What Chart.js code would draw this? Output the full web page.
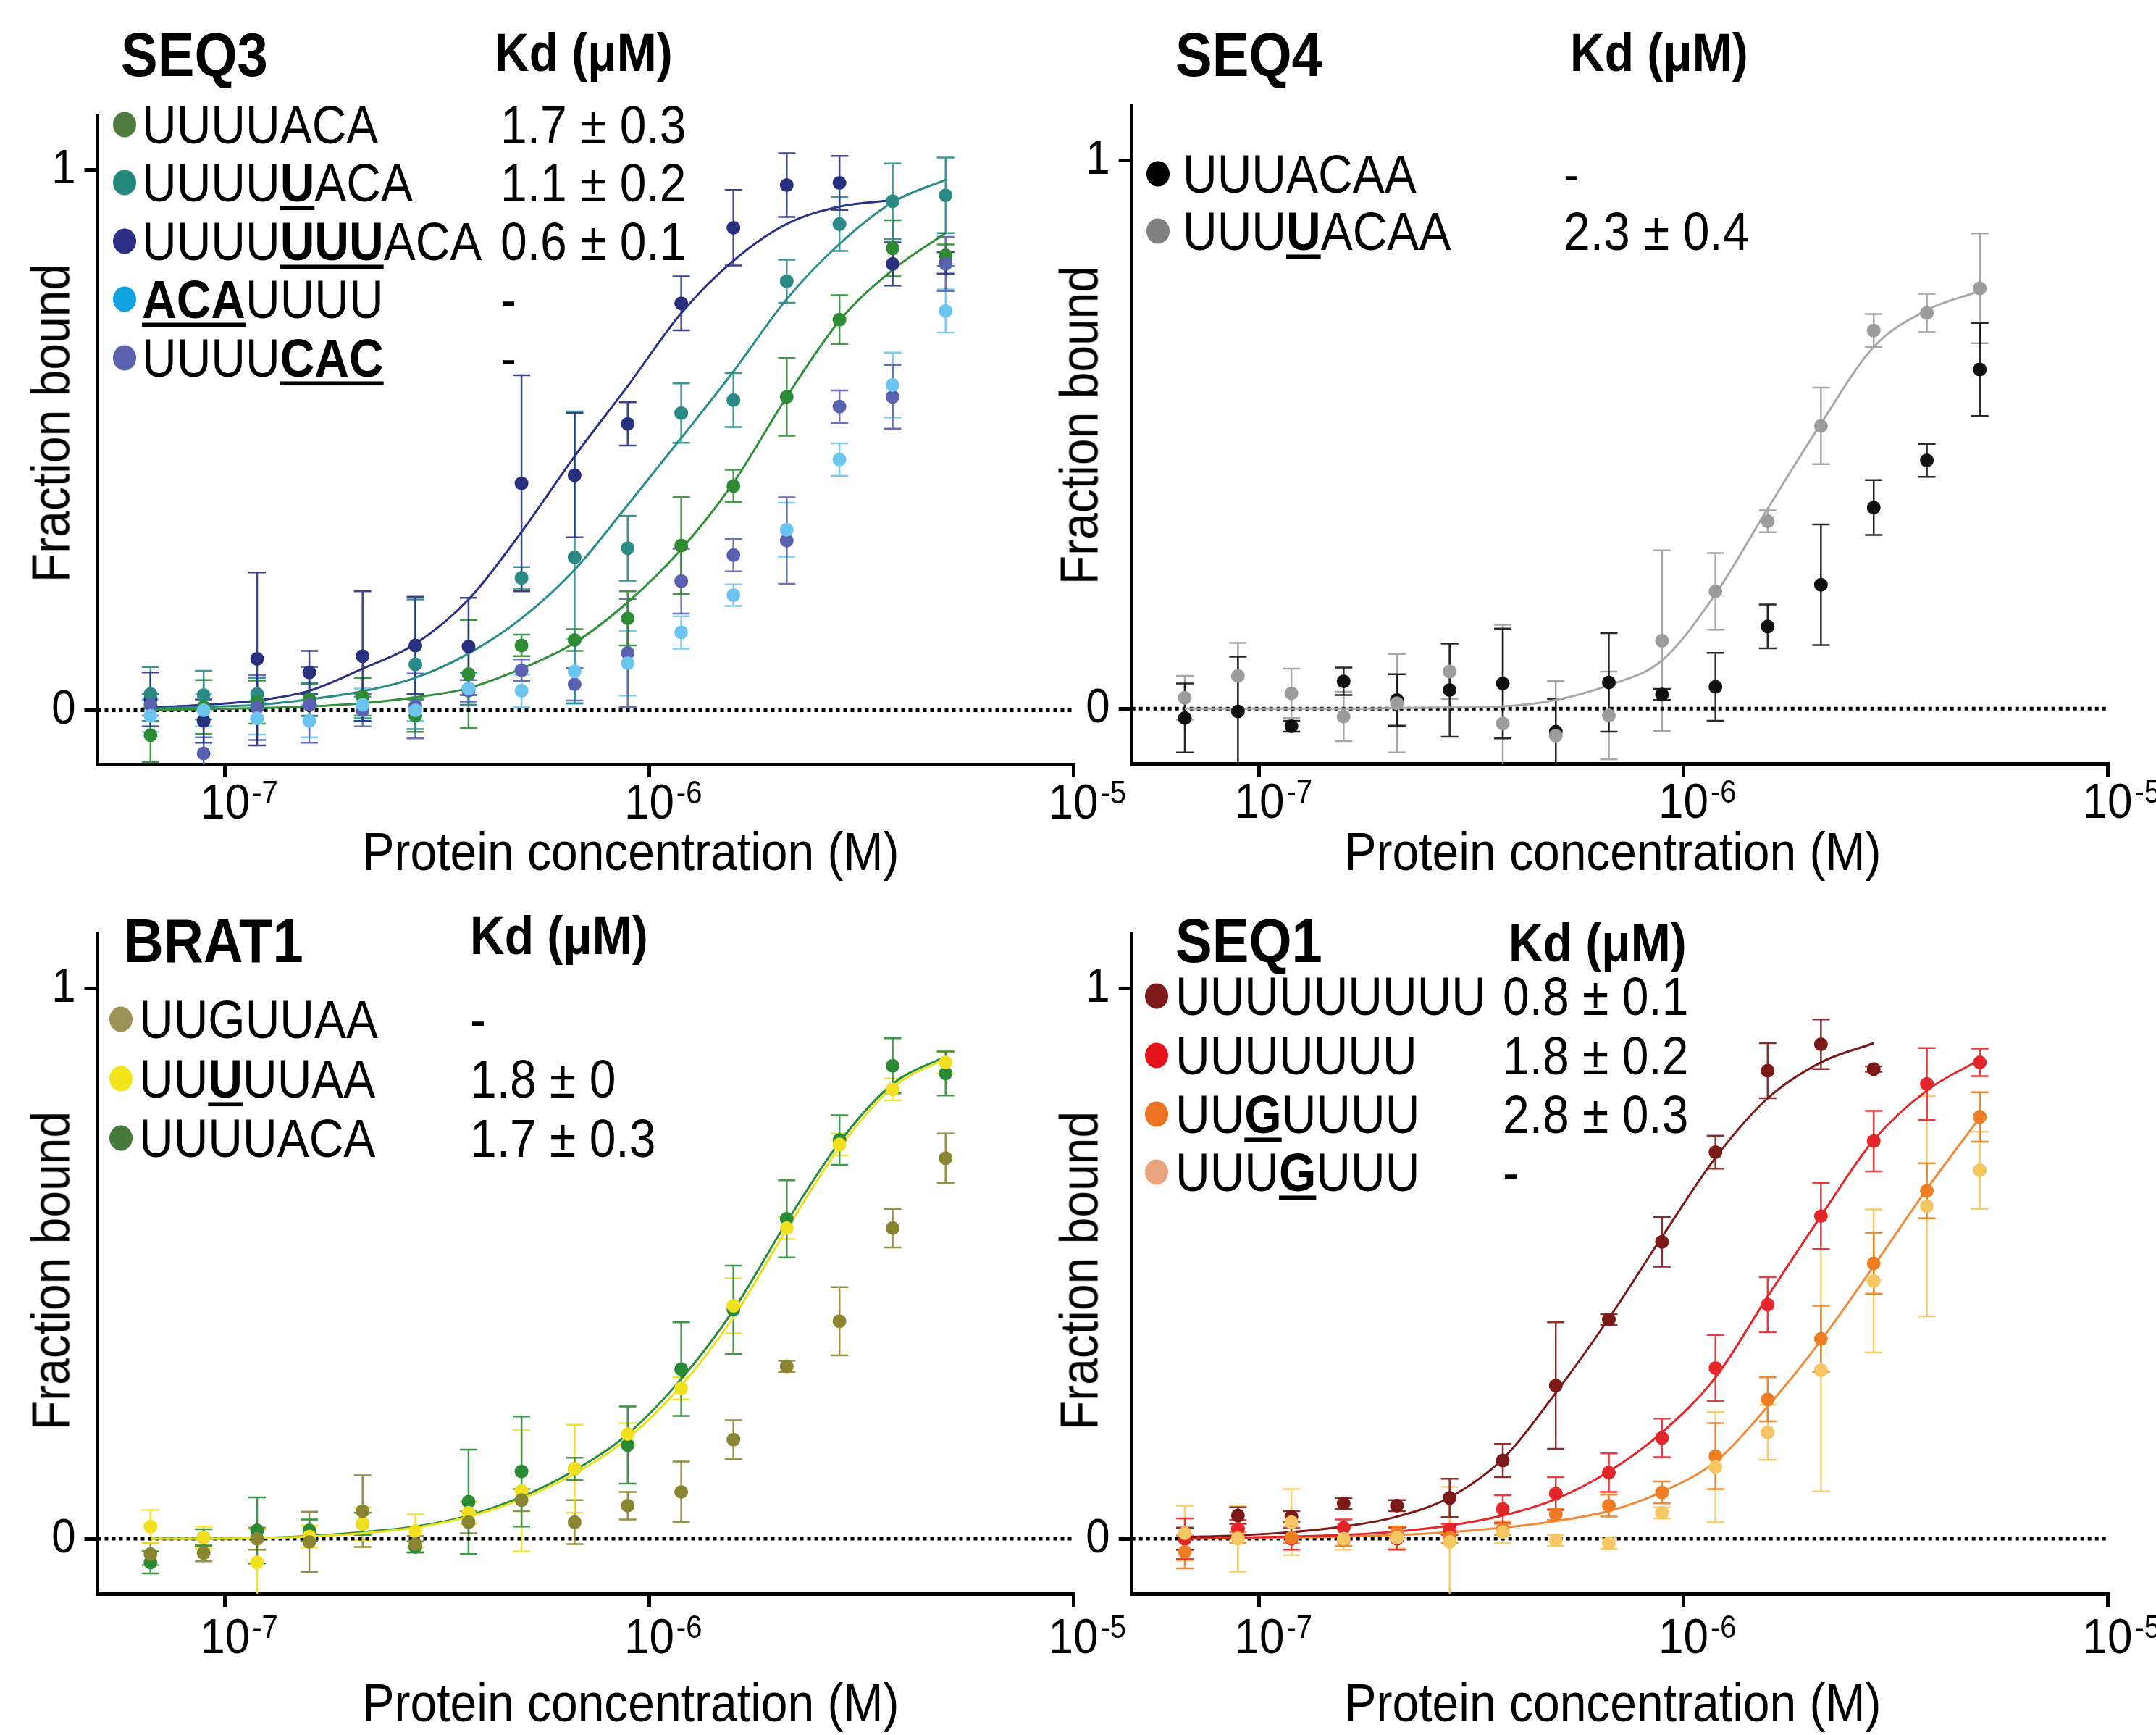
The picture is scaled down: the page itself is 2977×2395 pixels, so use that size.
<!DOCTYPE html>
<html>
<head>
<meta charset="utf-8">
<script src="https://cdn.jsdelivr.net/npm/chart.js@4.4.1/dist/chart.umd.min.js"></script>
<style>
html, body { margin: 0; padding: 0; background: #fff; }
#page { position: relative; width: 2977px; height: 2395px; overflow: hidden; font-family: "Liberation Sans", Arial, sans-serif; color: #000; }
canvas { position: absolute; }
.t { position: absolute; white-space: nowrap; line-height: 1; transform: translateY(-50%) scaleY(1.12); }
.ttl { font-size: 76px; font-weight: bold; }
.kdh { font-size: 66px; font-weight: bold; }
.leg { font-size: 66px; }
.leg u { text-decoration-thickness: 5px; text-underline-offset: 6px; }
.dot { position: absolute; width: 32px; height: 35px; border-radius: 50%; transform: translate(-50%, -50%); }
.xt { position: absolute; font-size: 66px; line-height: 1; white-space: nowrap; transform: translate(-50%, -50%) scaleY(1.12); }
.yt { position: absolute; font-size: 66px; line-height: 1; white-space: nowrap; transform: translate(-50%, -50%) rotate(-90deg) scaleY(1.12); }
</style>
</head>
<body>
<div id="page"></div>
<script>
// protein concentrations (M), same dilution series in all panels
const conc = [6.67e-8, 8.9e-8, 1.19e-7, 1.58e-7, 2.11e-7, 2.81e-7, 3.75e-7, 5.0e-7, 6.67e-7, 8.9e-7, 1.19e-6, 1.58e-6, 2.11e-6, 2.81e-6, 3.75e-6, 5.0e-6];
const xMin = 5e-8, xMax = 1e-5;
const xTicks = [1e-7, 1e-6, 1e-5];
const xTickBase = ['10', '10', '10'];
const xTickExp = ['-7', '-6', '-5'];
const yTicks = [0, 1];
const yTickLabels = ['0', '1'];
const xTitle = 'Protein concentration (M)';
const yTitle = 'Fraction bound';

// SEQ3
const seq3Names = ['UUUUACA', 'UUUU<u><b>U</b></u>ACA', 'UUUU<u><b>UUU</b></u>ACA', '<u><b>ACA</b></u>UUUU', 'UUUU<u><b>CAC</b></u>'];
const seq3Kd = ['1.7 ± 0.3', '1.1 ± 0.2', '0.6 ± 0.1', '-', '-'];
const seq3_A = [-0.046, 0.006, 0.015, 0.019, 0.025, -0.01, 0.067, 0.12, 0.13, 0.17, 0.305, 0.415, 0.58, 0.723, 0.855, 0.842];
const seq3_Aerr = [0.05, 0.05, 0.04, 0.03, 0.035, 0.03, 0.1, 0.02, 0.02, 0.05, 0.09, 0.03, 0.072, 0.045, 0.052, 0.02];
const seq3_Afit = [0.001, 0.002, 0.004, 0.007, 0.013, 0.024, 0.041, 0.077, 0.125, 0.2, 0.298, 0.421, 0.58, 0.721, 0.815, 0.883];
const seq3_B = [0.03, 0.028, 0.03, 0.02, 0.005, 0.085, 0.04, 0.245, 0.283, 0.30, 0.55, 0.574, 0.794, 0.9, 0.942, 0.953];
const seq3_Berr = [0.05, 0.045, 0.03, 0.03, 0.02, 0.12, 0.03, 0.02, 0.27, 0.06, 0.055, 0.05, 0.04, 0.05, 0.07, 0.07];
const seq3_Bfit = [0.003, 0.006, 0.01, 0.02, 0.035, 0.06, 0.105, 0.17, 0.26, 0.38, 0.504, 0.627, 0.761, 0.863, 0.94, 0.982];
const seq3_C = [0.02, -0.02, 0.095, 0.07, 0.10, 0.12, 0.118, 0.42, 0.435, 0.53, 0.753, 0.893, 0.972, 0.976, 0.826, 0.828];
const seq3_Cerr = [0.05, 0.04, 0.16, 0.04, 0.12, 0.09, 0.09, 0.2, 0.115, 0.04, 0.05, 0.07, 0.059, 0.05, 0.04, 0.02];
const seq3_Cfit = [0.005, 0.01, 0.018, 0.036, 0.077, 0.123, 0.205, 0.33, 0.47, 0.6, 0.735, 0.832, 0.9, 0.932, 0.944];
const seq3_D = [-0.01, 0.0, -0.015, -0.02, 0.01, 0.0, 0.04, 0.036, 0.072, 0.087, 0.144, 0.213, 0.334, 0.464, 0.602, 0.739];
const seq3_Derr = [0.03, 0.03, 0.03, 0.03, 0.03, 0.02, 0.03, 0.03, 0.06, 0.06, 0.03, 0.02, 0.05, 0.03, 0.06, 0.04];
const seq3_E = [0.01, -0.08, 0.005, 0.01, 0.0, 0.008, 0.036, 0.074, 0.048, 0.106, 0.239, 0.287, 0.314, 0.562, 0.58, 0.826];
const seq3_Eerr = [0.02, 0.03, 0.06, 0.07, 0.03, 0.06, 0.02, 0.02, 0.03, 0.1, 0.06, 0.03, 0.08, 0.03, 0.059, 0.05];

// SEQ4
const seq4Names = ['UUUACAA', 'UUU<u><b>U</b></u>ACAA'];
const seq4Kd = ['-', '2.3 ± 0.4'];
const seq4_A = [-0.017, -0.005, -0.032, 0.05, 0.016, 0.034, 0.046, -0.042, 0.048, 0.026, 0.04, 0.15, 0.226, 0.367, 0.453, 0.619];
const seq4_Aerr = [0.063, 0.1, 0.01, 0.025, 0.047, 0.085, 0.1, 0.06, 0.09, 0.01, 0.062, 0.04, 0.11, 0.05, 0.03, 0.085];
const seq4_B = [0.02, 0.06, 0.028, -0.014, 0.01, 0.068, -0.027, -0.049, -0.012, 0.124, 0.214, 0.342, 0.516, 0.69, 0.722, 0.767];
const seq4_Berr = [0.04, 0.06, 0.045, 0.045, 0.09, 0.05, 0.18, 0.1, 0.08, 0.165, 0.07, 0.02, 0.07, 0.03, 0.035, 0.1];
const seq4_Bfit = [0, 0, 0, 0, 0.001, 0.002, 0.004, 0.016, 0.043, 0.088, 0.209, 0.365, 0.52, 0.66, 0.727, 0.762];

// BRAT1
const brat1Names = ['UUGUUAA', 'UU<u><b>U</b></u>UUAA', 'UUUUACA'];
const brat1Kd = ['-', '1.8 ± 0', '1.7 ± 0.3'];
const brat1_A = [-0.028, -0.026, 0, -0.006, 0.05, -0.01, 0.03, 0.07, 0.03, 0.06, 0.085, 0.18, 0.313, 0.395, 0.564, 0.691];
const brat1_Aerr = [0.02, 0.015, 0.02, 0.055, 0.065, 0.015, 0.02, 0.02, 0.04, 0.025, 0.055, 0.035, 0.01, 0.062, 0.035, 0.045];
const brat1_B = [0.022, 0.002, -0.043, 0.004, 0.027, 0.014, 0.047, 0.087, 0.127, 0.19, 0.273, 0.423, 0.564, 0.716, 0.816, 0.865];
const brat1_Berr = [0.03, 0.02, 0.06, 0.02, 0.03, 0.03, 0.02, 0.11, 0.08, 0.02, 0.02, 0.05, 0.02, 0.02, 0.02, 0.02];
const brat1_Bfit = [0, 0, 0.001, 0.004, 0.01, 0.02, 0.04, 0.072, 0.118, 0.182, 0.278, 0.402, 0.562, 0.71, 0.82, 0.872];
const brat1_C = [-0.043, 0.002, 0.015, 0.015, 0.027, -0.015, 0.067, 0.122, 0.127, 0.17, 0.308, 0.416, 0.581, 0.724, 0.859, 0.845];
const brat1_Cerr = [0.02, 0.015, 0.06, 0.02, 0.02, 0.01, 0.095, 0.1, 0.02, 0.07, 0.085, 0.08, 0.07, 0.045, 0.05, 0.04];
const brat1_Cfit = [0, 0, 0.001, 0.005, 0.012, 0.022, 0.042, 0.076, 0.124, 0.19, 0.29, 0.415, 0.575, 0.72, 0.826, 0.876];

// SEQ1
const seq1Names = ['UUUUUUUUU', 'UUUUUUU', 'UU<u><b>G</b></u>UUUU', 'UUU<u><b>G</b></u>UUU'];
const seq1Kd = ['0.8 ± 0.1', '1.8 ± 0.2', '2.8 ± 0.3', '-'];
const seq1_A = [0.0, 0.042, 0.04, 0.064, 0.06, 0.074, 0.142, 0.278, 0.398, 0.539, 0.702, 0.85, 0.898, 0.853];
const seq1_Aerr = [0.02, 0.015, 0.01, 0.01, 0.01, 0.035, 0.03, 0.115, 0.01, 0.045, 0.03, 0.05, 0.045, 0.005];
const seq1_Afit = [0.003, 0.006, 0.012, 0.022, 0.04, 0.075, 0.145, 0.265, 0.4, 0.548, 0.692, 0.8, 0.865, 0.9];
const seq1_B = [0.0, 0.018, 0.0, 0.02, 0.0, 0.017, 0.054, 0.082, 0.12, 0.183, 0.31, 0.425, 0.586, 0.722, 0.826, 0.865];
const seq1_Berr = [0.037, 0.016, 0.02, 0.015, 0.02, 0.01, 0.025, 0.03, 0.035, 0.035, 0.06, 0.05, 0.06, 0.055, 0.065, 0.025];
const seq1_Bfit = [0.001, 0.002, 0.004, 0.007, 0.013, 0.024, 0.042, 0.072, 0.122, 0.193, 0.293, 0.44, 0.586, 0.724, 0.814, 0.87];
const seq1_C = [-0.024, 0.002, 0.002, -0.003, 0.012, 0.002, 0.017, 0.044, 0.06, 0.084, 0.15, 0.253, 0.363, 0.5, 0.632, 0.766];
const seq1_Cerr = [0.03, 0.01, 0.01, 0.01, 0.01, 0.01, 0.01, 0.01, 0.02, 0.02, 0.06, 0.04, 0.06, 0.055, 0.05, 0.045];
const seq1_Cfit = [0, 0.001, 0.002, 0.004, 0.007, 0.012, 0.02, 0.032, 0.05, 0.085, 0.14, 0.24, 0.36, 0.495, 0.635, 0.765];
const seq1_D = [0.01, 0.0, 0.03, 0.0, 0.002, -0.006, 0.012, -0.003, -0.008, 0.047, 0.13, 0.193, 0.306, 0.468, 0.604, 0.669];
const seq1_Derr = [0.05, 0.06, 0.06, 0.02, 0.02, 0.1, 0.02, 0.01, 0.01, 0.01, 0.1, 0.05, 0.22, 0.13, 0.2, 0.07];

function pts(vals) {
  return vals.map((v, i) => ({ x: conc[i], y: v }));
}
function pointSet(vals, err, color) {
  return { data: pts(vals), err: err, backgroundColor: color, borderColor: color, pointRadius: 9.5, pointBorderWidth: 0, order: 0 };
}
function fitSet(vals, color) {
  return { data: pts(vals), showLine: true, borderColor: color, borderWidth: 3, pointRadius: 0, cubicInterpolationMode: 'monotone', order: 1 };
}
function zeroSet() {
  return { data: [{ x: xMin, y: 0 }, { x: xMax, y: 0 }], showLine: true, borderColor: '#000', borderWidth: 5, borderDash: [5, 5], pointRadius: 0, order: 2 };
}

// error bars drawn with the chart scales, below the points
const errorBars = {
  id: 'errorBars',
  beforeDatasetsDraw(chart) {
    const ctx = chart.ctx, xs = chart.scales.x, ys = chart.scales.y, a = chart.chartArea;
    ctx.save();
    ctx.beginPath();
    ctx.rect(a.left, a.top, a.right - a.left, a.bottom - a.top);
    ctx.clip();
    ctx.lineWidth = 2.5;
    ctx.globalAlpha = 0.9;
    chart.data.datasets.forEach(ds => {
      if (!ds.err) return;
      ctx.strokeStyle = ds.borderColor;
      ds.data.forEach((p, i) => {
        const e = ds.err[i];
        if (!e) return;
        const x = xs.getPixelForValue(p.x);
        const y1 = ys.getPixelForValue(p.y - e), y2 = ys.getPixelForValue(p.y + e);
        ctx.beginPath();
        ctx.moveTo(x, y1); ctx.lineTo(x, y2);
        ctx.moveTo(x - 12, y1); ctx.lineTo(x + 12, y1);
        ctx.moveTo(x - 12, y2); ctx.lineTo(x + 12, y2);
        ctx.stroke();
      });
    });
    ctx.restore();
  }
};

// tick labels with superscript exponent
const tickText = {
  id: 'tickText',
  afterDraw(chart, args, opts) {
    const ctx = chart.ctx, xs = chart.scales.x, ys = chart.scales.y, a = chart.chartArea;
    const fam = '"Liberation Sans", Arial, sans-serif';
    const put = (txt, x, y) => {
      ctx.save();
      ctx.translate(x, y);
      ctx.scale(1, 1.12);
      ctx.fillText(txt, 0, 0);
      ctx.restore();
    };
    ctx.save();
    ctx.fillStyle = '#000';
    ctx.textBaseline = 'middle';
    ctx.font = '60px ' + fam;
    ctx.textAlign = 'right';
    yTicks.forEach((v, i) => put(yTickLabels[i], a.left - 30, ys.getPixelForValue(v)));
    xTicks.forEach((v, i) => {
      const x = xs.getPixelForValue(v), y = a.bottom + opts.gap;
      ctx.font = '62px ' + fam;
      ctx.textAlign = 'center';
      put(xTickBase[i], x, y);
      const w = ctx.measureText(xTickBase[i]).width;
      ctx.font = '40px ' + fam;
      ctx.textAlign = 'left';
      put(xTickExp[i], x + w / 2 + 3, y - 14);
    });
    ctx.restore();
  }
};

const panels = [
  { ox: 0, oy: 0, W: 1570, H: 1150, l: 134.5, r: 1482, t: 160, b: 1055, gap: 56,
    title: 'SEQ3', titleX: 167, titleY: 76, kdX: 683, kdY: 72,
    names: seq3Names, kds: seq3Kd, dotX: 172, textX: 196, kdValX: 691, rows: [172, 252, 333, 413, 494],
    dots: ['#4e7a3e', '#23877c', '#2c2f85', '#13a3e3', '#5b62ad'],
    xtX: 871, xtY: 1175, ytX: 70, ytY: 584,
    sets: [
      zeroSet(),
      fitSet(seq3_Afit, '#2f8f37'), fitSet(seq3_Bfit, '#2a8c88'), fitSet(seq3_Cfit, '#2b3183'),
      pointSet(seq3_D, seq3_Derr, '#6cc5ef'), pointSet(seq3_E, seq3_Eerr, '#5a60b0'),
      pointSet(seq3_A, seq3_Aerr, '#2f8a34'), pointSet(seq3_B, seq3_Berr, '#2a8a85'), pointSet(seq3_C, seq3_Cerr, '#28307e')
    ] },
  { ox: 1420, oy: 0, W: 1557, H: 1150, l: 1562.7, r: 2910, t: 146, b: 1054, gap: 56,
    title: 'SEQ4', titleX: 1623, titleY: 76, kdX: 2168, kdY: 72,
    names: seq4Names, kds: seq4Kd, dotX: 1599, textX: 1633, kdValX: 2159, rows: [240, 319],
    dots: ['#000000', '#808080'],
    xtX: 2227, xtY: 1175, ytX: 1490, ytY: 587,
    sets: [
      zeroSet(),
      fitSet(seq4_Bfit, '#a8a8a8'),
      pointSet(seq4_B, seq4_Berr, '#9c9c9c'), pointSet(seq4_A, seq4_Aerr, '#111111')
    ] },
  { ox: 0, oy: 1150, W: 1570, H: 1170, l: 134.5, r: 1482, t: 1288, b: 2200, gap: 63,
    title: 'BRAT1', titleX: 171, titleY: 1299, kdX: 649, kdY: 1291,
    names: brat1Names, kds: brat1Kd, dotX: 167, textX: 192, kdValX: 649, rows: [1407, 1489, 1571],
    dots: ['#9b9356', '#f2e41b', '#467a3a'],
    xtX: 871, xtY: 2350, ytX: 70, ytY: 1754,
    sets: [
      zeroSet(),
      fitSet(brat1_Bfit, '#ece020'), fitSet(brat1_Cfit, '#2a8a40'),
      pointSet(brat1_A, brat1_Aerr, '#8a8530'), pointSet(brat1_B, brat1_Berr, '#f0e020'), pointSet(brat1_C, brat1_Cerr, '#2a8a35')
    ] },
  { ox: 1420, oy: 1150, W: 1557, H: 1170, l: 1562.7, r: 2910, t: 1288, b: 2200, gap: 63,
    title: 'SEQ1', titleX: 1623, titleY: 1299, kdX: 2083, kdY: 1301,
    names: seq1Names, kds: seq1Kd, dotX: 1597, textX: 1623, kdValX: 2075, rows: [1375, 1457, 1538, 1618],
    dots: ['#7e1a1a', '#e3131b', '#ec7322', '#eaa57f'],
    xtX: 2227, xtY: 2350, ytX: 1490, ytY: 1754,
    sets: [
      zeroSet(),
      fitSet(seq1_Afit, '#7b1818'), fitSet(seq1_Bfit, '#e3262a'), fitSet(seq1_Cfit, '#ee8a3a'),
      pointSet(seq1_D, seq1_Derr, '#f5c762'), pointSet(seq1_C, seq1_Cerr, '#ee7d24'),
      pointSet(seq1_B, seq1_Berr, '#e3262a'), pointSet(seq1_A, seq1_Aerr, '#7b1818')
    ] }
];

const page = document.getElementById('page');
const T = 18;

function addText(cls, html, x, y) {
  const d = document.createElement('div');
  d.className = cls;
  d.innerHTML = html;
  d.style.left = x + 'px';
  d.style.top = y + 'px';
  page.appendChild(d);
  return d;
}

panels.forEach(p => {
  const canvas = document.createElement('canvas');
  canvas.width = p.W;
  canvas.height = p.H;
  canvas.style.left = p.ox + 'px';
  canvas.style.top = p.oy + 'px';
  page.appendChild(canvas);

  new Chart(canvas, {
    type: 'scatter',
    data: { datasets: p.sets },
    options: {
      responsive: false,
      animation: false,
      devicePixelRatio: 1,
      layout: { padding: { left: p.l - p.ox - T, top: p.t - p.oy, right: p.ox + p.W - p.r, bottom: p.oy + p.H - p.b - T } },
      plugins: { legend: { display: false }, tooltip: { enabled: false }, tickText: { gap: p.gap } },
      scales: {
        x: {
          type: 'logarithmic', min: xMin, max: xMax,
          afterBuildTicks: s => { s.ticks = xTicks.map(v => ({ value: v })); },
          afterFit: s => { s.height = T; },
          ticks: { display: false },
          grid: { drawOnChartArea: false, drawTicks: true, tickLength: T, lineWidth: 5, color: '#000' },
          border: { display: true, width: 5, color: '#000' }
        },
        y: {
          type: 'linear', min: -0.1, max: 1.1,
          afterBuildTicks: s => { s.ticks = yTicks.map(v => ({ value: v })); },
          afterFit: s => { s.width = T; },
          ticks: { display: false },
          grid: { drawOnChartArea: false, drawTicks: true, tickLength: T, lineWidth: 5, color: '#000' },
          border: { display: true, width: 5, color: '#000' }
        }
      }
    },
    plugins: [errorBars, tickText]
  });

  // panel heading and legend
  addText('t ttl', p.title, p.titleX, p.titleY);
  addText('t kdh', 'Kd (μM)', p.kdX, p.kdY);
  p.names.forEach((n, i) => {
    const dot = document.createElement('div');
    dot.className = 'dot';
    dot.style.left = p.dotX + 'px';
    dot.style.top = p.rows[i] + 'px';
    dot.style.background = p.dots[i];
    page.appendChild(dot);
    addText('t leg', n, p.textX, p.rows[i]);
    addText('t leg', p.kds[i], p.kdValX, p.rows[i]);
  });
  addText('xt', xTitle, p.xtX, p.xtY);
  addText('yt', yTitle, p.ytX, p.ytY);
});
</script>
</body>
</html>
